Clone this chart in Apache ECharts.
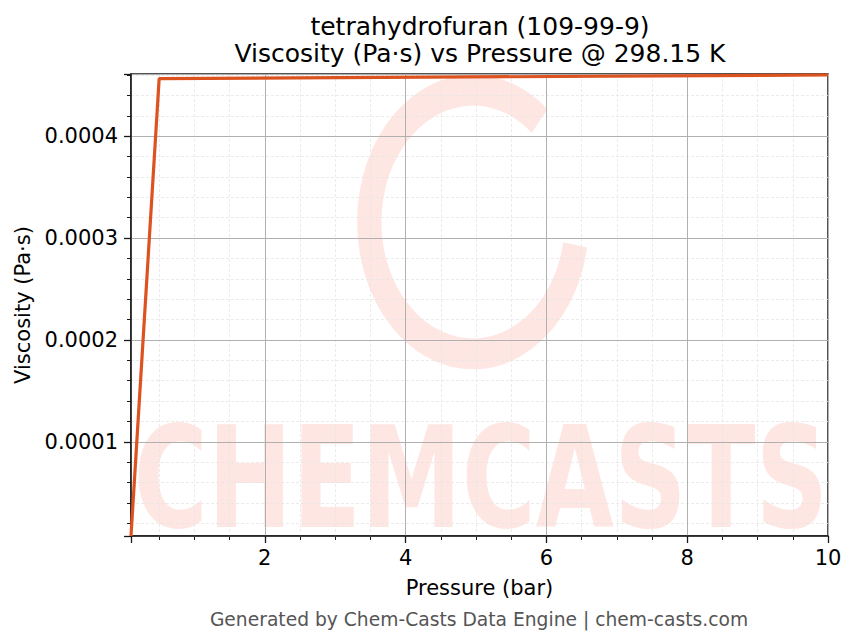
<!DOCTYPE html>
<html>
<head>
<meta charset="utf-8">
<script src="https://cdn.jsdelivr.net/npm/echarts@6/dist/echarts.min.js"></script>
<style>
  html, body { margin: 0; padding: 0; background: #fff; }
  #chart { width: 856px; height: 644px; }
</style>
</head>
<body>
<div id="chart"></div>
<script>
// ---- data ----
const pressureBar = [0.1, 0.5, 10];
const viscosityPaS = [0.0000076, 0.0004565, 0.000460];
const xRange = [0.1, 10];
const yRange = [0.0000076, 0.000461];
const titleLines = ['tetrahydrofuran (109-99-9)', 'Viscosity (Pa·s) vs Pressure @ 298.15 K'];
const xAxisName = 'Pressure (bar)';
const yAxisName = 'Viscosity (Pa·s)';
const footerText = 'Generated by Chem-Casts Data Engine | chem-casts.com';
const watermarkText = 'CHEMCASTS';

const FONT = '"DejaVu Sans", "Liberation Sans", sans-serif';
const seriesData = pressureBar.map((p, i) => [p, viscosityPaS[i]]);

const isMultiple = (v, step) => Math.abs(v / step - Math.round(v / step)) < 1e-6;

const chart = echarts.init(document.getElementById('chart'), null, { renderer: 'svg' });

const option = {
  backgroundColor: '#ffffff',
  animation: false,
  textStyle: { fontFamily: FONT },
  grid: {
    left: 131, right: 28, top: 74, bottom: 108,
    show: true, borderColor: '#1a1a1a', borderWidth: 1.5, backgroundColor: 'transparent'
  },
  graphic: [
    {
      type: 'arc', x: 473, y: 222, scaleX: 0.81, scaleY: 1.03, z: -1, silent: true,
      shape: { cx: 0, cy: 0, r: 128, startAngle: 10 * Math.PI / 180, endAngle: 310 * Math.PI / 180, clockwise: true },
      style: { stroke: 'rgba(250,100,80,0.16)', lineWidth: 30, fill: null }
    },
    {
      type: 'text', x: 481, y: 478, scaleX: 0.716, z: -1, silent: true,
      style: {
        text: watermarkText, fontFamily: FONT, fontWeight: 'bold', fontSize: 141,
        fill: 'rgba(250,100,80,0.16)', textAlign: 'center', textVerticalAlign: 'middle'
      }
    },
    {
      type: 'text', x: 480, y: 26,
      style: { text: titleLines[0], fontFamily: FONT, fontSize: 25, fill: '#000', textAlign: 'center', textVerticalAlign: 'middle' }
    },
    {
      type: 'text', x: 480, y: 53,
      style: { text: titleLines[1], fontFamily: FONT, fontSize: 25, fill: '#000', textAlign: 'center', textVerticalAlign: 'middle' }
    },
    {
      type: 'text', x: 479, y: 619,
      style: { text: footerText, fontFamily: FONT, fontSize: 18.7, fill: '#555555', textAlign: 'center', textVerticalAlign: 'middle' }
    }
  ],
  xAxis: [
    {
      type: 'value', min: xRange[0], max: xRange[1], splitNumber: 5, position: 'bottom', z: 2,
      name: xAxisName, nameLocation: 'middle', nameGap: 41,
      nameTextStyle: { fontSize: 21, color: '#000', fontFamily: FONT },
      axisLine: { show: true, lineStyle: { color: '#1a1a1a', width: 1.5 } },
      axisTick: { show: true, length: 7, lineStyle: { color: '#1a1a1a', width: 1.3 } },
      axisLabel: {
        fontSize: 21, color: '#000', margin: 11, fontFamily: FONT,
        formatter: v => (isMultiple(v, 2) ? String(Math.round(v)) : '')
      },
      splitLine: { show: true, lineStyle: { color: '#b0b0b0', width: 1 } },
      minorTick: { show: false }, minorSplitLine: { show: false }
    },
    {
      type: 'value', min: xRange[0], max: xRange[1], splitNumber: 20, position: 'bottom', offset: 0, z: 1,
      axisLine: { show: false },
      axisTick: { show: true, length: 4, lineStyle: { color: '#1a1a1a', width: 1 } },
      axisLabel: { show: false },
      splitLine: { show: true, lineStyle: { color: '#e6e6e6', width: 0.8, type: [3, 2] } }
    }
  ],
  yAxis: [
    {
      type: 'value', min: yRange[0], max: yRange[1], splitNumber: 5, position: 'left', z: 2,
      name: yAxisName, nameLocation: 'middle', nameGap: 97, nameRotate: 90,
      nameTextStyle: { fontSize: 21, color: '#000', fontFamily: FONT },
      axisLine: { show: true, lineStyle: { color: '#1a1a1a', width: 1.5 } },
      axisTick: { show: true, length: 7, lineStyle: { color: '#1a1a1a', width: 1.3 } },
      axisLabel: {
        fontSize: 21, color: '#000', margin: 13, fontFamily: FONT,
        formatter: v => (isMultiple(v, 0.0001) && v > 0.00005 ? v.toFixed(4) : '')
      },
      splitLine: { show: true, lineStyle: { color: '#b0b0b0', width: 1 } }
    },
    {
      type: 'value', min: yRange[0], max: yRange[1], splitNumber: 23, position: 'left', offset: 0, z: 1,
      axisLine: { show: false },
      axisTick: { show: true, length: 4, lineStyle: { color: '#1a1a1a', width: 1 } },
      axisLabel: { show: false },
      splitLine: { show: true, lineStyle: { color: '#e6e6e6', width: 0.8, type: [3, 2] } }
    }
  ],
  series: [
    {
      type: 'line', xAxisIndex: 0, yAxisIndex: 0, data: seriesData,
      showSymbol: false, symbol: 'none', clip: false, z: 5,
      lineStyle: { color: '#dc5320', width: 3.2 }
    }
  ]
};

chart.setOption(option);
</script>
</body>
</html>
